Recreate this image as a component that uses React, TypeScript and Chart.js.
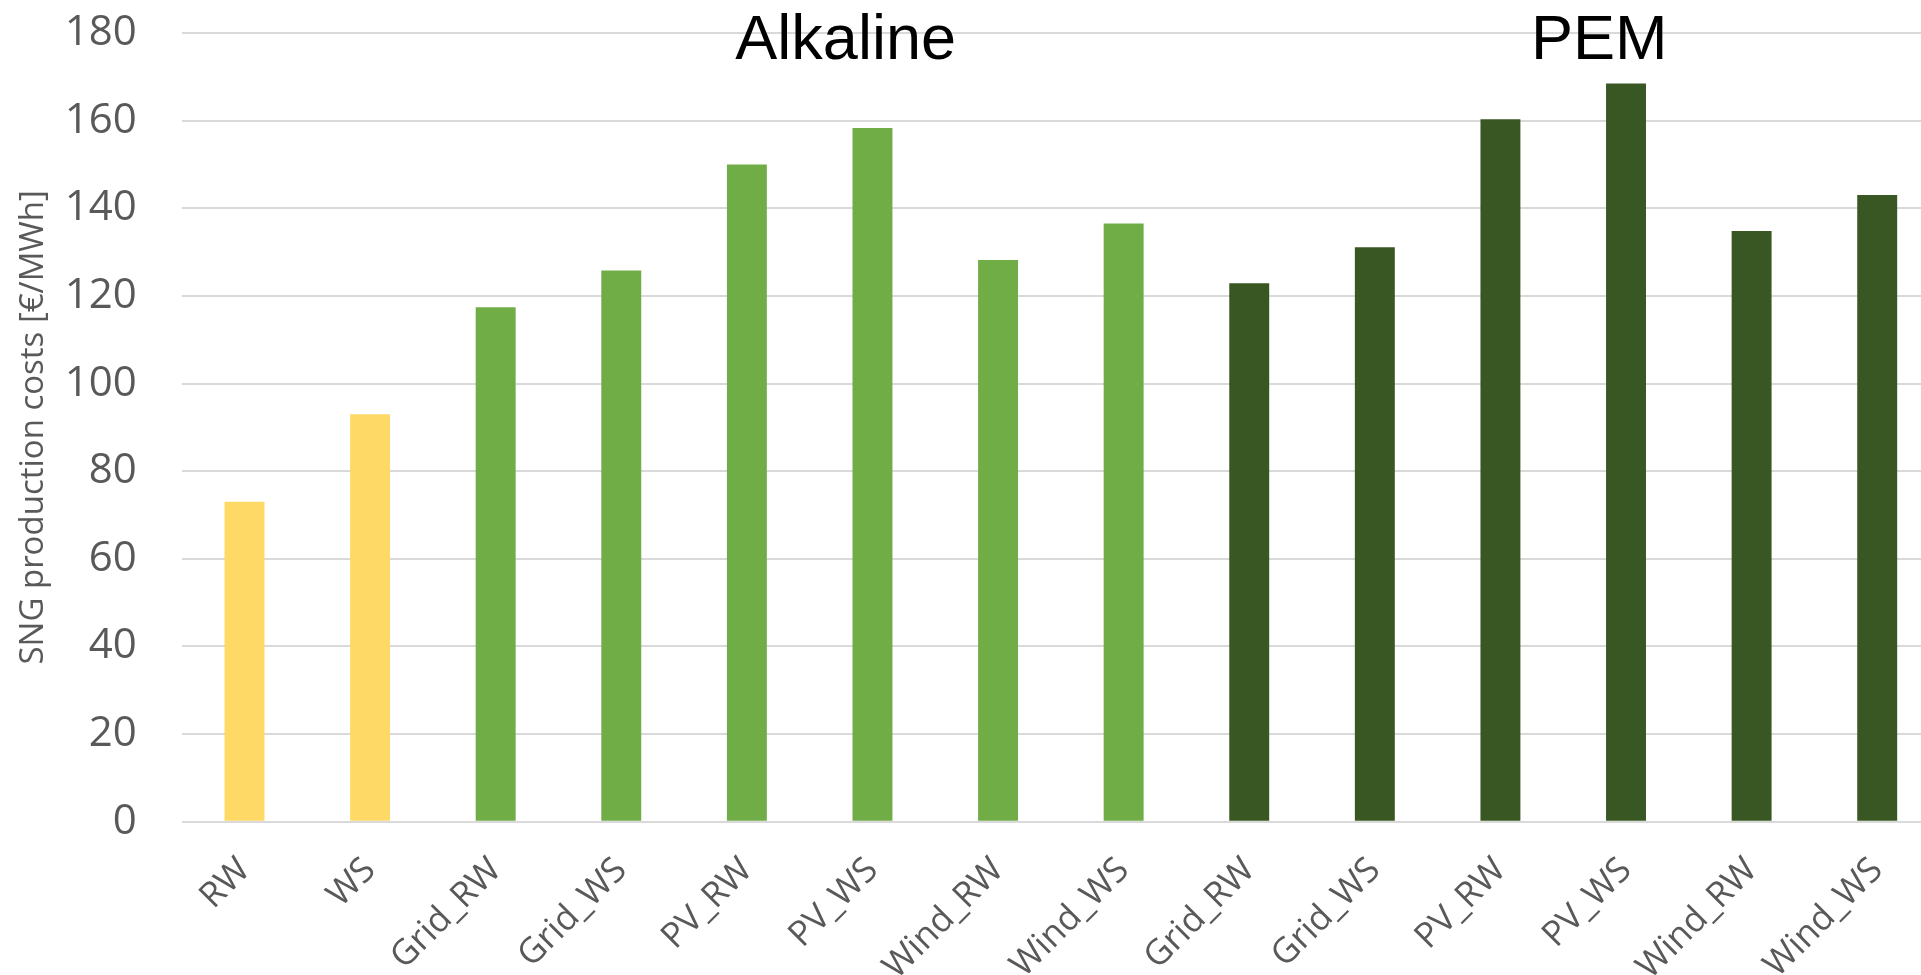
import { useEffect, useRef } from "react";
import { Chart, registerables } from "chart.js";

Chart.register(...registerables);

const categories = [
  "RW", "WS",
  "Grid_RW", "Grid_WS", "PV_RW", "PV_WS", "Wind_RW", "Wind_WS",
  "Grid_RW", "Grid_WS", "PV_RW", "PV_WS", "Wind_RW", "Wind_WS",
];
const costs = [73, 93, 117.4, 125.8, 150, 158.3, 128.2, 136.5, 122.9, 131.1, 160.3, 168.5, 134.8, 143.0];
const colorYellow = "#FFD966";
const colorLightGreen = "#70AD47";
const colorDarkGreen = "#385723";
const barColors = [
  colorYellow, colorYellow,
  colorLightGreen, colorLightGreen, colorLightGreen, colorLightGreen, colorLightGreen, colorLightGreen,
  colorDarkGreen, colorDarkGreen, colorDarkGreen, colorDarkGreen, colorDarkGreen, colorDarkGreen,
];
const groupNames = ["Alkaline", "PEM"];
const groupStart = [2, 8];
const groupEnd = [7, 13];
const yMin = 0;
const yMax = 180;
const yStep = 20;
const yTitle = "SNG production costs [€/MWh]";

const textGray = "#595959";
const uiFont = "'Open Sans', 'DejaVu Sans', sans-serif";

const groupLabelPlugin = {
  id: "groupLabels",
  afterDraw(chart: any) {
    const { ctx, scales } = chart;
    const xs = scales.x;
    const top = chart.chartArea.top;
    ctx.save();
    ctx.font = "63px 'Liberation Sans', Arial, sans-serif";
    ctx.fillStyle = "#000000";
    ctx.textAlign = "center";
    ctx.textBaseline = "alphabetic";
    groupNames.forEach((name, i) => {
      const cx = (xs.getPixelForValue(groupStart[i]) + xs.getPixelForValue(groupEnd[i])) / 2 + 36;
      ctx.fillText(name, cx, top + 25.5);
    });
    ctx.restore();
  },
};

export default function App() {
  const ref = useRef<HTMLCanvasElement | null>(null);
  useEffect(() => {
    if (!ref.current) return;
    const chart = new Chart(ref.current, {
      type: "bar",
      data: {
        labels: categories,
        datasets: [
          {
            data: costs,
            backgroundColor: barColors,
            borderWidth: 0,
            barPercentage: 0.318,
            categoryPercentage: 1,
          },
        ],
      },
      options: {
        animation: false,
        responsive: false,
        maintainAspectRatio: false,
        devicePixelRatio: 1,
        layout: { padding: { top: 33, left: 0, right: 0, bottom: 0 } },
        plugins: {
          legend: { display: false },
          tooltip: { enabled: false },
          title: { display: false },
        },
        scales: {
          x: {
            grid: { display: false, drawTicks: false },
            border: { display: false },
            ticks: {
              autoSkip: false,
              maxRotation: 45,
              minRotation: 45,
              color: textGray,
              padding: 28,
              font: { family: uiFont, size: 35 },
            },
            afterFit(scale: any) {
              scale.height = 153.3;
              scale.paddingTop = 0;
              scale.paddingBottom = 0;
            },
          },
          y: {
            min: yMin,
            max: yMax,
            grid: { color: "#D9D9D9", lineWidth: 2, drawTicks: false },
            border: { display: false },
            ticks: {
              stepSize: yStep,
              color: textGray,
              padding: 45,
              font: { family: uiFont, size: 42 },
            },
            title: {
              display: true,
              text: yTitle,
              color: textGray,
              font: { family: uiFont, size: 33 },
              padding: { top: 14, bottom: 0 },
            },
            afterFit(scale: any) {
              scale.width = 181.7;
              scale.paddingTop = 0;
              scale.paddingBottom = 0;
            },
          },
        },
      },
      plugins: [groupLabelPlugin],
    });
    return () => chart.destroy();
  }, []);

  return (
    <div
      style={{
        position: "fixed",
        left: 0,
        top: 0,
        width: 1921,
        height: 975,
        overflow: "hidden",
        background: "#ffffff",
      }}
    >
      <canvas ref={ref} width={1940} height={975} style={{ display: "block", width: 1940, height: 975 }} />
    </div>
  );
}
